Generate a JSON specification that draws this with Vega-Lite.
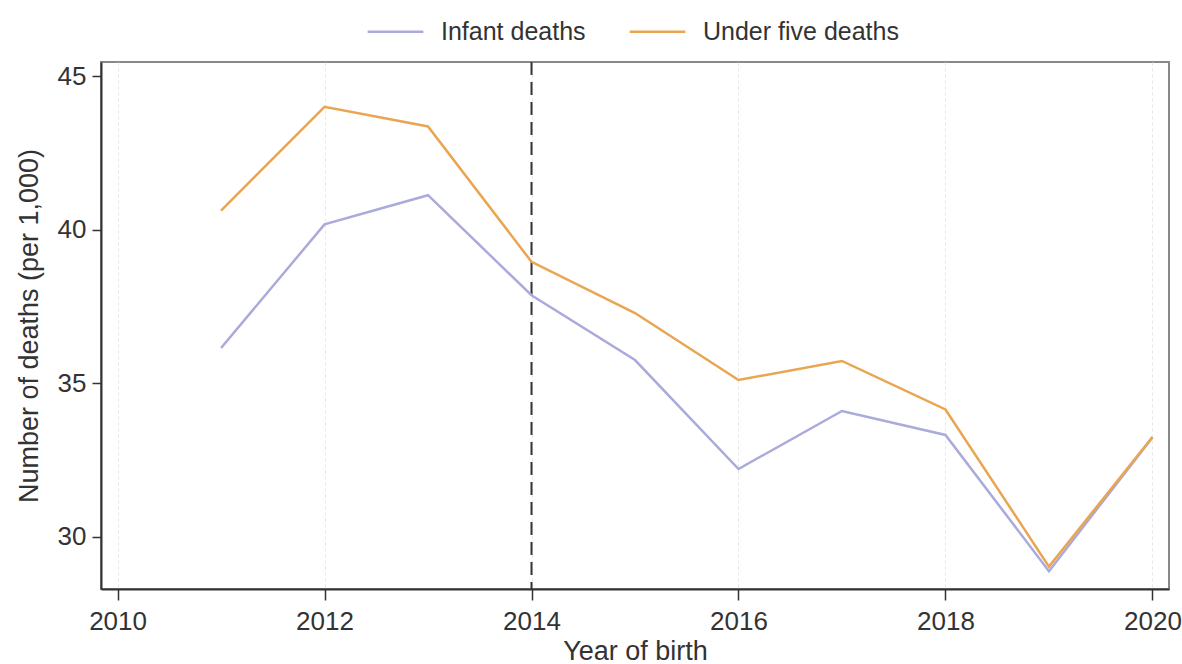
{
  "$schema": "https://vega.github.io/schema/vega-lite/v6.json",
  "autosize": {"type": "none"},
  "width": 1068,
  "height": 527,
  "padding": {"left": 101, "top": 62, "right": 13, "bottom": 75},
  "background": "white",
  "config": {
    "font": "Liberation Sans",
    "view": {"stroke": "#888888", "strokeWidth": 2},
    "axis": {"labelFont": "Liberation Sans", "titleFont": "Liberation Sans", "labelColor": "#333333", "titleColor": "#333333", "titleFontWeight": "normal", "labelFontSize": 26, "titleFontSize": 27}
  },
  "datasets": {
    "deaths": [
      {"year": 2011, "series": "Infant deaths", "value": 36.15},
      {"year": 2012, "series": "Infant deaths", "value": 40.18},
      {"year": 2013, "series": "Infant deaths", "value": 41.13},
      {"year": 2014, "series": "Infant deaths", "value": 37.87},
      {"year": 2015, "series": "Infant deaths", "value": 35.76},
      {"year": 2016, "series": "Infant deaths", "value": 32.21},
      {"year": 2017, "series": "Infant deaths", "value": 34.1},
      {"year": 2018, "series": "Infant deaths", "value": 33.32},
      {"year": 2019, "series": "Infant deaths", "value": 28.88},
      {"year": 2020, "series": "Infant deaths", "value": 33.24},
      {"year": 2011, "series": "Under five deaths", "value": 40.63},
      {"year": 2012, "series": "Under five deaths", "value": 44.01},
      {"year": 2013, "series": "Under five deaths", "value": 43.37},
      {"year": 2014, "series": "Under five deaths", "value": 38.96},
      {"year": 2015, "series": "Under five deaths", "value": 37.29},
      {"year": 2016, "series": "Under five deaths", "value": 35.11},
      {"year": 2017, "series": "Under five deaths", "value": 35.73},
      {"year": 2018, "series": "Under five deaths", "value": 34.15},
      {"year": 2019, "series": "Under five deaths", "value": 29.03},
      {"year": 2020, "series": "Under five deaths", "value": 33.25}
    ],
    "cutoff": [{"year": 2014}]
  },
  "layer": [
    {
      "data": {"name": "cutoff"},
      "mark": {"type": "rule", "color": "#333333", "strokeWidth": 2, "strokeDash": [13, 7]},
      "encoding": {
        "x": {"field": "year", "type": "quantitative", "scale": {"domain": [2009.84, 2020.16], "nice": false, "zero": false}}
      }
    },
    {
      "data": {"name": "deaths"},
      "mark": {"type": "line", "strokeWidth": 2.5},
      "encoding": {
        "x": {
          "field": "year", "type": "quantitative",
          "scale": {"domain": [2009.84, 2020.16], "nice": false, "zero": false},
          "axis": {
            "title": "Year of birth", "values": [2010, 2012, 2014, 2016, 2018, 2020], "format": "d",
            "domainColor": "#333333", "domainWidth": 2, "tickColor": "#333333", "tickWidth": 1.5, "tickSize": 11,
            "labelPadding": 8, "titlePadding": 4,
            "grid": true, "gridColor": "#e6e6e6", "gridDash": [3, 3], "gridWidth": 1
          }
        },
        "y": {
          "field": "value", "type": "quantitative",
          "scale": {"domain": [28.3, 45.47], "nice": false, "zero": false},
          "axis": {
            "title": "Number of deaths (per 1,000)", "values": [30, 35, 40, 45],
            "domainColor": "#333333", "domainWidth": 2, "tickColor": "#333333", "tickWidth": 1.5, "tickSize": 9,
            "labelPadding": 6, "titlePadding": 14, "grid": false
          }
        },
        "color": {
          "field": "series", "type": "nominal",
          "scale": {"domain": ["Infant deaths", "Under five deaths"], "range": ["#aaaadb", "#e9a550"]},
          "legend": {
            "title": null, "orient": "none", "direction": "horizontal", "legendX": 265, "legendY": -60,
            "symbolType": "stroke", "symbolSize": 3100, "symbolStrokeWidth": 2.5,
            "labelFontSize": 25, "labelColor": "#333333", "labelFont": "Liberation Sans", "labelOffset": 16,
            "labelLimit": 0, "columnPadding": 38
          }
        }
      }
    }
  ]
}
